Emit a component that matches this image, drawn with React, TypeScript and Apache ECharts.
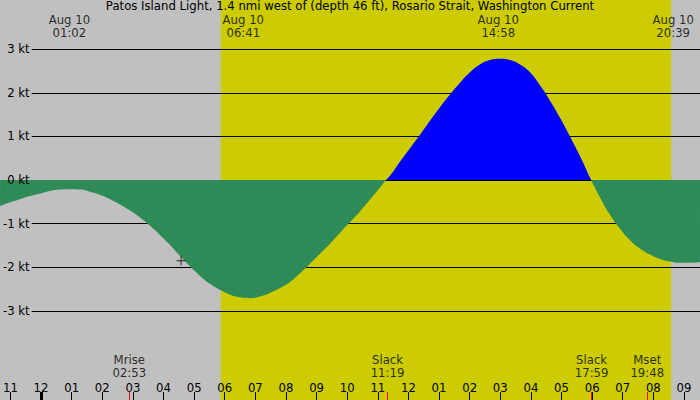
import { useEffect, useRef } from "react";
import * as echarts from "echarts";

const chartTitle =
  "Patos Island Light, 1.4 nmi west of (depth 46 ft), Rosario Strait, Washington Current";

// hours from midnight of Aug 10 (negative = evening of Aug 9)
const tideHours = [
  -1.22, -0.897, -0.572, -0.247, 0.078, 0.403, 0.728, 1.053, 1.378, 1.702, 2.027, 2.352, 2.677,
  3.002, 3.327, 3.652, 3.977, 4.302, 4.627, 4.951, 5.276, 5.601, 5.926, 6.251, 6.576, 6.901,
  7.225, 7.55, 7.875, 8.2, 8.525, 8.85, 9.175, 9.5, 9.825, 10.15, 10.474, 10.799, 11.124,
  11.317, 11.449, 11.774, 12.099, 12.424, 12.749, 13.073, 13.398, 13.723, 14.048, 14.373,
  14.698, 15.022, 15.347, 15.672, 15.997, 16.322, 16.647, 16.972, 17.296, 17.621, 17.983,
  18.271, 18.596, 18.921, 19.246, 19.571, 19.896, 20.221, 20.546, 20.87, 21.195, 21.52,
];
// current speed, knots (flood +, ebb -)
const tideKnots = [
  -0.6, -0.51, -0.44, -0.37, -0.31, -0.25, -0.22, -0.21, -0.22, -0.27, -0.34, -0.44, -0.56,
  -0.7, -0.86, -1.05, -1.26, -1.49, -1.74, -1.98, -2.2, -2.38, -2.52, -2.63, -2.69, -2.71,
  -2.67, -2.59, -2.48, -2.34, -2.14, -1.92, -1.69, -1.46, -1.21, -0.965, -0.72, -0.45, -0.17,
  0, 0.1, 0.42, 0.73, 1.04, 1.36, 1.67, 1.96, 2.23, 2.47, 2.65,
  2.75, 2.78, 2.75, 2.65, 2.47, 2.17, 1.82, 1.43, 1.0, 0.55, 0,
  -0.4, -0.8, -1.12, -1.38, -1.57, -1.71, -1.81, -1.87, -1.9, -1.9, -1.88,
];

const hourLabels = [
  "11", "12", "01", "02", "03", "04", "05", "06", "07", "08", "09", "10",
  "11", "12", "01", "02", "03", "04", "05", "06", "07", "08", "09",
];

const sunrise = "05:57";
const sunset = "20:35";

const extremaDates = ["Aug 10", "Aug 10", "Aug 10", "Aug 10"];
const extremaTimes = ["01:02", "06:41", "14:58", "20:39"];

const eventNames = ["Mrise", "Slack", "Slack", "Mset"];
const eventTimes = ["02:53", "11:19", "17:59", "19:48"];

const nowMark = [4.66, -1.85];
const midnight = "00:00";

const toHours = (t: string) => {
  const [h, m] = t.split(":").map(Number);
  return h + m / 60;
};

const FONT = "DejaVu Sans";
const FS = 11.7;
const LH = 13.6;
const GRAY = "#c0c0c0";
const YELLOW = "#cccc00";
const GREEN = "#2e8b57";
const BLUE = "#0000ff";

export default function App() {
  const ref = useRef<HTMLDivElement | null>(null);

  useEffect(() => {
    if (!ref.current) return;
    const chart = echarts.init(ref.current, undefined, { renderer: "svg" });

    // hour ticks: -1h sits at x=6.82, 21h at x=683.98 (30.78 px per hour)
    const left = 6.82;
    const right = 16.02;
    const pxPerHour = 30.78;

    const option: any = {
      animation: false,
      backgroundColor: GRAY,
      textStyle: { fontFamily: FONT, fontSize: FS, color: "#000" },
      title: {
        text: chartTitle,
        left: "center",
        top: -0.5,
        padding: 0,
        textStyle: { fontFamily: FONT, fontSize: FS, fontWeight: "normal", color: "#000" },
      },
      visualMap: {
        type: "piecewise",
        show: false,
        seriesIndex: 0,
        dimension: 1,
        pieces: [
          { gte: -10, lt: 0, color: GREEN },
          { gte: 0, lte: 10, color: BLUE },
        ],
      },
      grid: [
        { left: 0, right: 0, top: 0, bottom: 0 },
        { left, right, top: 392, bottom: 0 },
        { left, right, top: 14.3, height: 24 },
        { left: 30, right: 0, top: 49.2, bottom: 89.2 },
      ],
      xAxis: [
        {
          gridIndex: 0,
          type: "value",
          min: -1 - left / pxPerHour,
          max: 21 + right / pxPerHour,
          show: false,
        },
        {
          gridIndex: 1,
          type: "value",
          min: -1,
          max: 21,
          interval: 1,
          position: "bottom",
          z: 6,
          axisLine: { show: false },
          splitLine: { show: false },
          axisTick: { inside: true, length: 8, lineStyle: { color: "#000", width: 1 } },
          axisLabel: {
            inside: true,
            margin: 6.2,
            color: "#000",
            fontFamily: FONT,
            fontSize: FS,
            formatter: (v: number) => hourLabels[Math.round(v) + 1] ?? "",
          },
        },
        { gridIndex: 2, type: "value", min: -1, max: 21, show: false },
        { gridIndex: 3, type: "value", min: 0, max: 1, show: false },
      ],
      yAxis: [
        { gridIndex: 0, type: "value", min: -5.046, max: 4.128, show: false },
        { gridIndex: 1, type: "value", min: 0, max: 1, show: false },
        { gridIndex: 2, type: "value", min: 0, max: 1, show: false },
        {
          gridIndex: 3,
          type: "value",
          min: -3,
          max: 3,
          interval: 1,
          z: 2,
          axisLine: { show: false },
          axisTick: { show: false },
          axisLabel: { show: false },
          splitLine: { show: true, lineStyle: { color: "#000", width: 1 } },
        },
        {
          gridIndex: 3,
          type: "value",
          position: "left",
          min: -3,
          max: 3,
          interval: 1,
          z: 6,
          axisLine: { show: false },
          axisTick: { show: false },
          splitLine: { show: false },
          axisLabel: {
            margin: 2,
            color: "#000",
            fontFamily: FONT,
            fontSize: FS,
            formatter: (v: number) => `${v} kt`,
          },
        },
      ],
      series: [
        {
          type: "line",
          name: "current",
          xAxisIndex: 0,
          yAxisIndex: 0,
          data: tideHours.map((h, i) => [h, tideKnots[i]]),
          smooth: true,
          symbol: "none",
          z: 3,
          lineStyle: { width: 0 },
          areaStyle: { opacity: 1 },
          markArea: {
            silent: true,
            z: 1,
            itemStyle: { color: YELLOW, opacity: 1 },
            data: [[{ xAxis: toHours(sunrise) }, { xAxis: toHours(sunset) }]],
          },
        },
        {
          type: "scatter",
          name: "now",
          xAxisIndex: 0,
          yAxisIndex: 0,
          data: [nowMark],
          symbol: "path://M4,0h1v4h4v1h-4v4h-1v-4h-4v-1h4z",
          symbolSize: 9,
          itemStyle: { color: "#000" },
          z: 4,
        },
        {
          type: "scatter",
          name: "events",
          xAxisIndex: 1,
          yAxisIndex: 1,
          data: eventTimes.map((t) => [toHours(t), 1]),
          symbolSize: 0,
          z: 6,
          label: {
            show: true,
            position: "top",
            distance: 12,
            color: "#000",
            fontFamily: FONT,
            fontSize: FS,
            lineHeight: LH,
            align: "center",
            formatter: (p: any) => `${eventNames[p.dataIndex]}\n${eventTimes[p.dataIndex]}`,
          },
          markLine: {
            silent: true,
            z: 6,
            symbol: ["none", "none"],
            label: { show: false },
            lineStyle: { color: "#ff0000", width: 1, type: "solid" },
            data: [
              ...eventTimes.map((t) => [{ coord: [toHours(t), 0] }, { coord: [toHours(t), 1] }]),
              [
                { coord: [toHours(midnight), 0], lineStyle: { color: "#000", width: 3, type: "solid" } },
                { coord: [toHours(midnight), 1] },
              ],
            ],
          },
        },
        {
          type: "scatter",
          name: "extrema",
          xAxisIndex: 2,
          yAxisIndex: 2,
          data: extremaTimes.map((t) => [toHours(t), 0.5]),
          symbolSize: 0,
          z: 6,
          label: {
            show: true,
            position: "inside",
            color: "#000",
            fontFamily: FONT,
            fontSize: FS,
            lineHeight: LH,
            align: "center",
            formatter: (p: any) => `${extremaDates[p.dataIndex]}\n${extremaTimes[p.dataIndex]}`,
          },
        },
      ],
    };

    chart.setOption(option);
    return () => {
      chart.dispose();
    };
  }, []);

  return (
    <div
      ref={ref}
      style={{ position: "fixed", left: 0, top: 0, width: 700, height: 400 }}
    />
  );
}
